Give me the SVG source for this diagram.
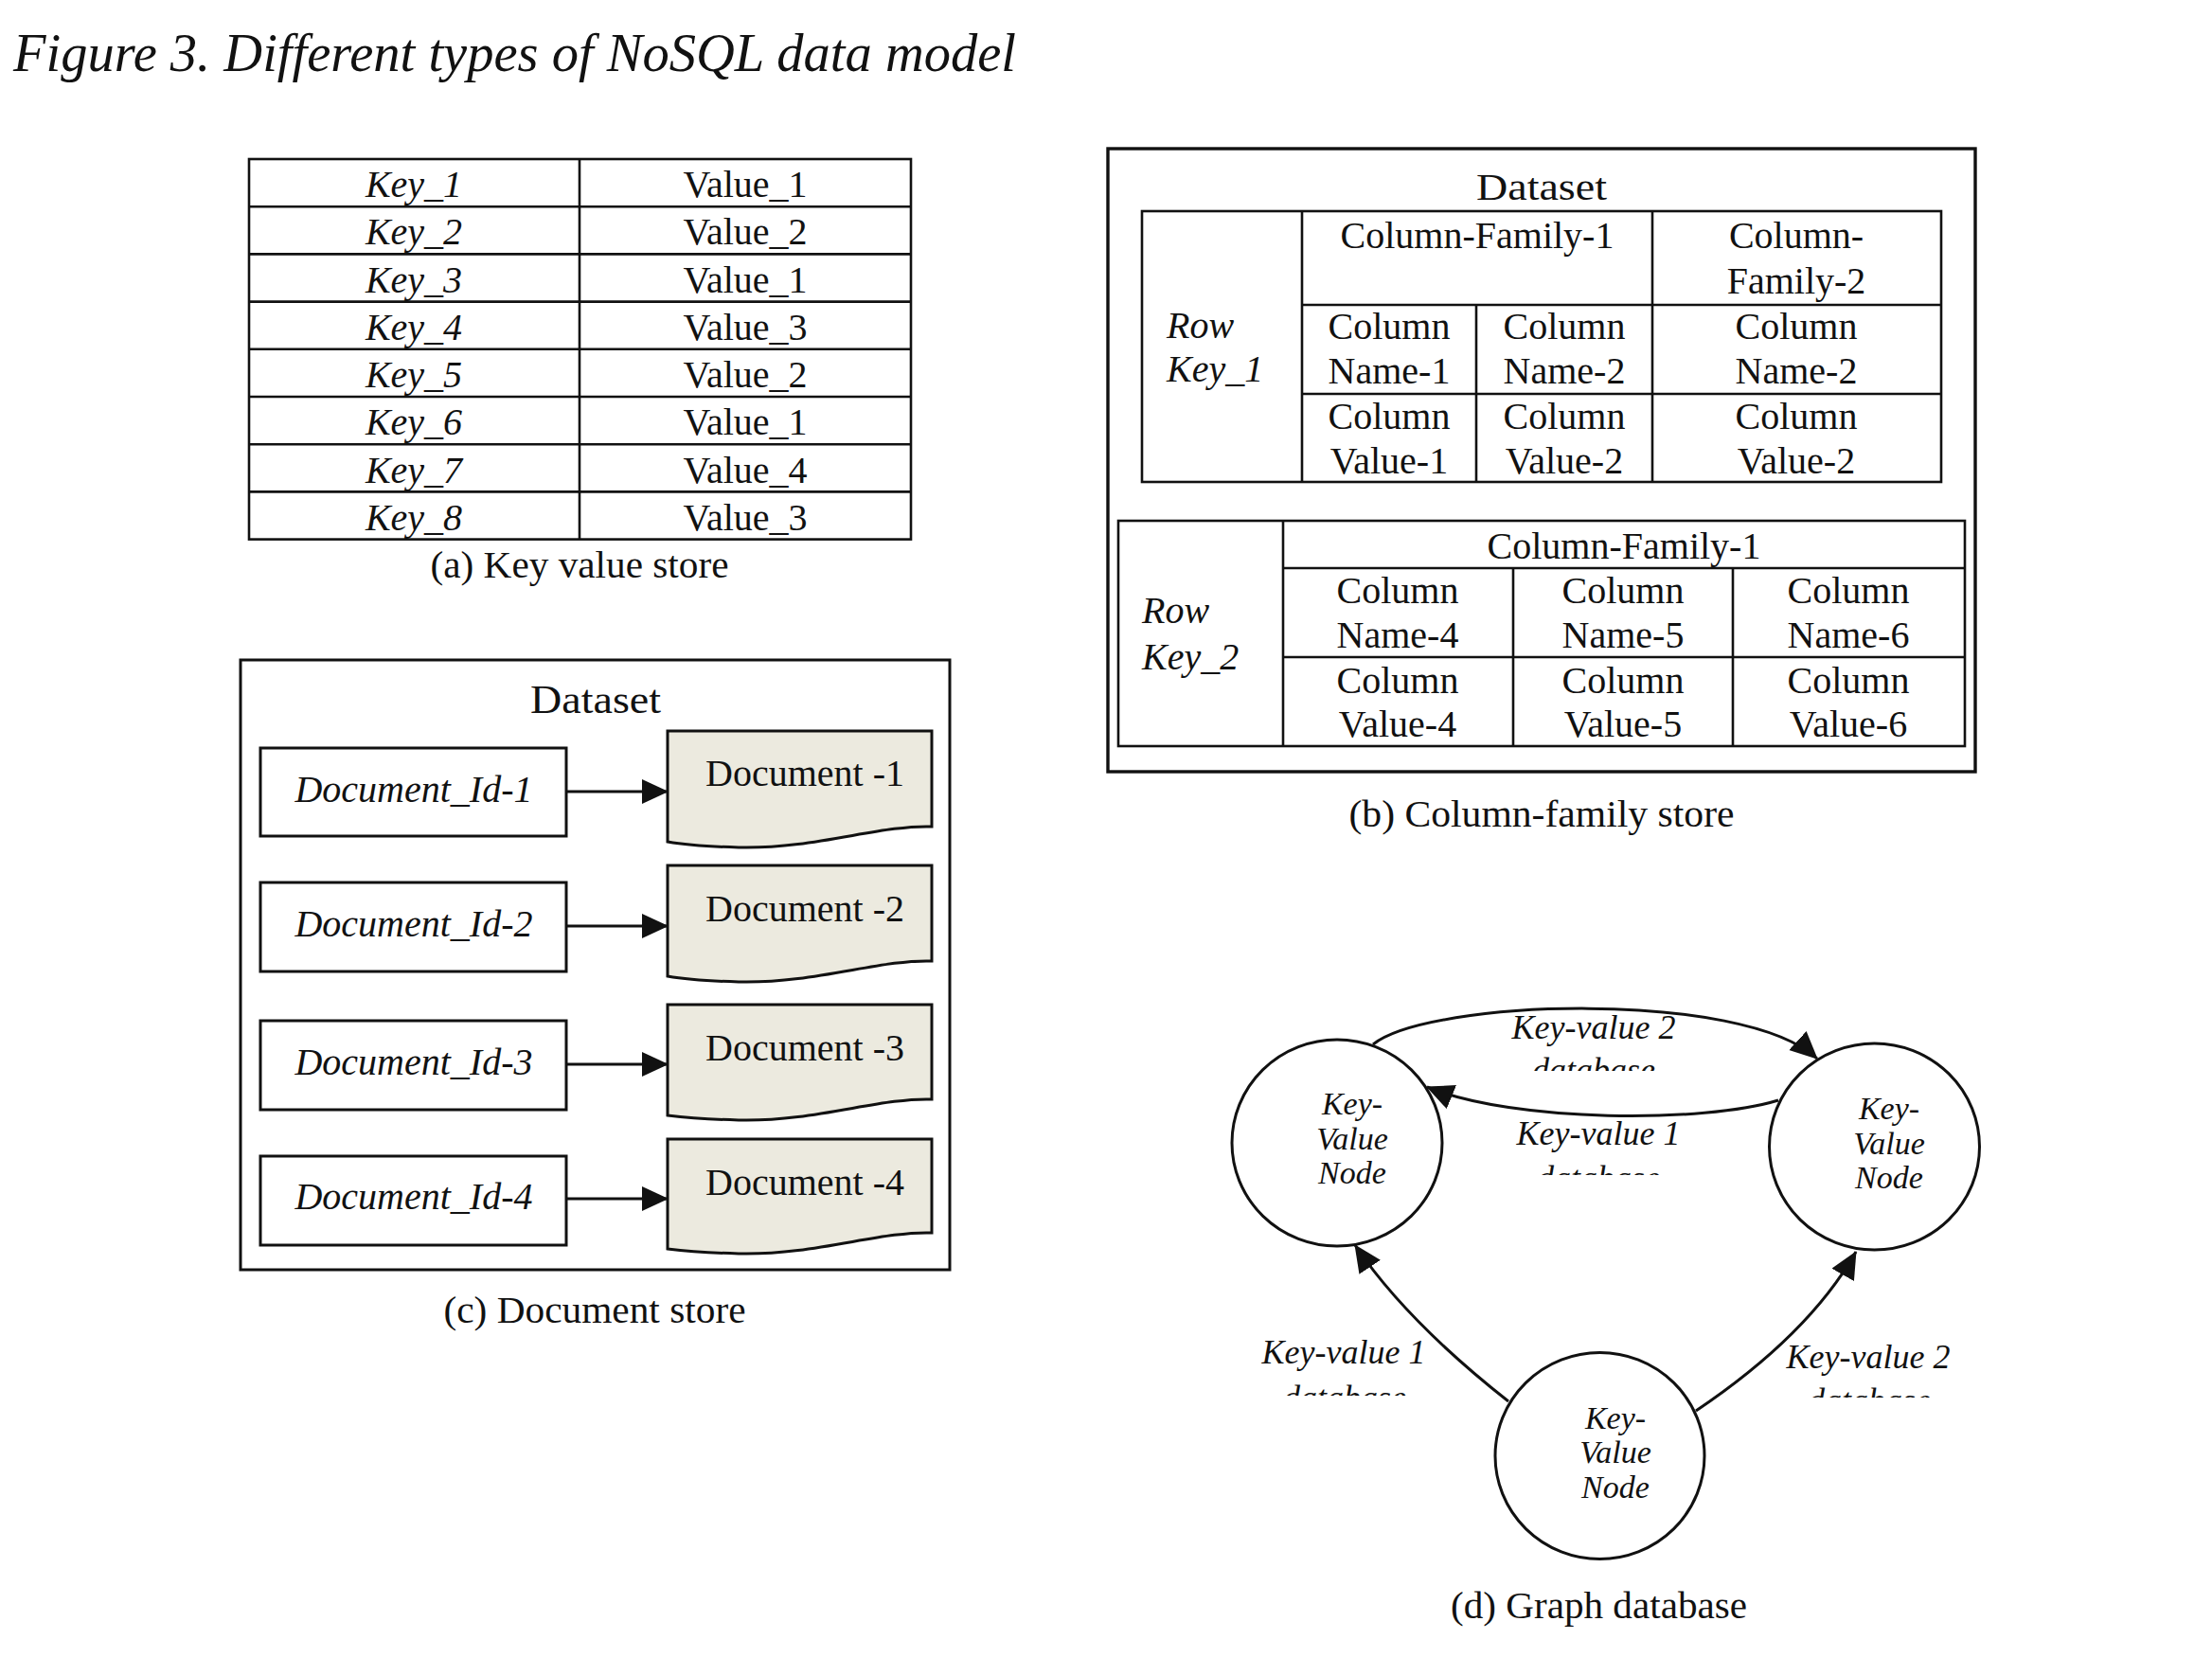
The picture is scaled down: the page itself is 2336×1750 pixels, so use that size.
<svg xmlns="http://www.w3.org/2000/svg" width="2336" height="1750" viewBox="0 0 2336 1750">
<style>
.t{font-family:"Liberation Serif","Times New Roman",serif;fill:#111}
.i{font-style:italic}
.c{text-anchor:middle}
.s40{font-size:40px}
.s36{font-size:36px}
.s34{font-size:34px}
.ln{stroke:#111;stroke-width:2.6;fill:none}
.box{stroke:#111;stroke-width:3;fill:none}
.idb{stroke:#111;stroke-width:3;fill:#fff}
.doc{stroke:#111;stroke-width:3;fill:#ECEADF}
.node{stroke:#111;stroke-width:3;fill:#fff}
.edge{stroke:#111;stroke-width:3;fill:none}
</style>
<defs>
<marker id="ah" markerUnits="userSpaceOnUse" markerWidth="30" markerHeight="28" refX="27" refY="13" orient="auto">
<path d="M0,0 L28,13 L0,26 Z" fill="#111"/>
</marker>
<marker id="ah2" markerUnits="userSpaceOnUse" markerWidth="32" markerHeight="30" refX="28" refY="13.5" orient="auto">
<path d="M0,0 L29,13.5 L0,27 Z" fill="#111"/>
</marker>
<clipPath id="cl1" clipPathUnits="userSpaceOnUse"><rect x="1580" y="1100" width="210" height="31"/></clipPath>
<clipPath id="cl2" clipPathUnits="userSpaceOnUse"><rect x="1580" y="1215" width="210" height="26"/></clipPath>
<clipPath id="cl3" clipPathUnits="userSpaceOnUse"><rect x="1320" y="1450" width="210" height="24"/></clipPath>
<clipPath id="cl4" clipPathUnits="userSpaceOnUse"><rect x="1870" y="1450" width="210" height="26"/></clipPath>
</defs>
<rect width="2336" height="1750" fill="#fff"/>

<text class="t i" x="14" y="75" font-size="57" textLength="1059" lengthAdjust="spacingAndGlyphs">Figure 3. Different types of NoSQL data model</text>

<!-- (a) Key value store -->
<g id="kv-table">
<rect class="ln" x="263" y="168" width="699" height="401.6"/>
<line class="ln" x1="612" y1="168" x2="612" y2="569.6"/>
<line class="ln" x1="263" y1="218.2" x2="962" y2="218.2"/>
<line class="ln" x1="263" y1="268.4" x2="962" y2="268.4"/>
<line class="ln" x1="263" y1="318.6" x2="962" y2="318.6"/>
<line class="ln" x1="263" y1="368.8" x2="962" y2="368.8"/>
<line class="ln" x1="263" y1="419" x2="962" y2="419"/>
<line class="ln" x1="263" y1="469.2" x2="962" y2="469.2"/>
<line class="ln" x1="263" y1="519.4" x2="962" y2="519.4"/>
<g class="t s40 c">
<text class="i" x="437" y="208">Key_1</text><text x="787" y="208">Value_1</text>
<text class="i" x="437" y="258">Key_2</text><text x="787" y="258">Value_2</text>
<text class="i" x="437" y="308.5">Key_3</text><text x="787" y="308.5">Value_1</text>
<text class="i" x="437" y="359">Key_4</text><text x="787" y="359">Value_3</text>
<text class="i" x="437" y="409">Key_5</text><text x="787" y="409">Value_2</text>
<text class="i" x="437" y="459">Key_6</text><text x="787" y="459">Value_1</text>
<text class="i" x="437" y="509.5">Key_7</text><text x="787" y="509.5">Value_4</text>
<text class="i" x="437" y="559.5">Key_8</text><text x="787" y="559.5">Value_3</text>
</g>
</g>
<text class="t s40 c" x="612" y="610" textLength="315" lengthAdjust="spacingAndGlyphs">(a) Key value store</text>

<!-- (b) Column-family store -->
<g id="cf-store">
<rect x="1170" y="157" width="916" height="658" fill="none" stroke="#111" stroke-width="3.4"/>
<text class="t s40 c" x="1628" y="211" font-size="43" textLength="138" lengthAdjust="spacingAndGlyphs">Dataset</text>
</g>
<g id="cf-row1">
<rect class="ln" x="1206" y="223" width="844" height="286"/>
<line class="ln" x1="1375" y1="223" x2="1375" y2="509"/>
<line class="ln" x1="1745" y1="223" x2="1745" y2="509"/>
<line class="ln" x1="1375" y1="322" x2="2050" y2="322"/>
<line class="ln" x1="1375" y1="416" x2="2050" y2="416"/>
<line class="ln" x1="1559" y1="322" x2="1559" y2="509"/>
<g class="t s40">
<text class="i" x="1232" y="357">Row</text>
<text class="i" x="1232" y="403">Key_1</text>
<text class="c" x="1560" y="262">Column-Family-1</text>
<text class="c" x="1897" y="262">Column-</text>
<text class="c" x="1897" y="310">Family-2</text>
<text class="c" x="1467" y="358">Column</text><text class="c" x="1467" y="405">Name-1</text>
<text class="c" x="1652" y="358">Column</text><text class="c" x="1652" y="405">Name-2</text>
<text class="c" x="1897" y="358">Column</text><text class="c" x="1897" y="405">Name-2</text>
<text class="c" x="1467" y="453">Column</text><text class="c" x="1467" y="500">Value-1</text>
<text class="c" x="1652" y="453">Column</text><text class="c" x="1652" y="500">Value-2</text>
<text class="c" x="1897" y="453">Column</text><text class="c" x="1897" y="500">Value-2</text>
</g>
</g>
<g id="cf-row2">
<rect class="ln" x="1181" y="550" width="894" height="238"/>
<line class="ln" x1="1355" y1="550" x2="1355" y2="788"/>
<line class="ln" x1="1355" y1="600" x2="2075" y2="600"/>
<line class="ln" x1="1355" y1="694" x2="2075" y2="694"/>
<line class="ln" x1="1598" y1="600" x2="1598" y2="788"/>
<line class="ln" x1="1830" y1="600" x2="1830" y2="788"/>
<g class="t s40">
<text class="i" x="1206" y="658">Row</text>
<text class="i" x="1206" y="707">Key_2</text>
<text class="c" x="1715" y="590">Column-Family-1</text>
<text class="c" x="1476" y="637">Column</text><text class="c" x="1476" y="684">Name-4</text>
<text class="c" x="1714" y="637">Column</text><text class="c" x="1714" y="684">Name-5</text>
<text class="c" x="1952" y="637">Column</text><text class="c" x="1952" y="684">Name-6</text>
<text class="c" x="1476" y="732">Column</text><text class="c" x="1476" y="778">Value-4</text>
<text class="c" x="1714" y="732">Column</text><text class="c" x="1714" y="778">Value-5</text>
<text class="c" x="1952" y="732">Column</text><text class="c" x="1952" y="778">Value-6</text>
</g>
</g>
<text class="t s40 c" x="1628" y="873" textLength="407" lengthAdjust="spacingAndGlyphs">(b) Column-family store</text>

<!-- (c) Document store -->
<g id="doc-store">
<rect class="box" x="254" y="697" width="749" height="644"/>
<text class="t c" x="629" y="753" font-size="43" textLength="138" lengthAdjust="spacingAndGlyphs">Dataset</text>
</g>
<g id="docid-1"><rect class="idb" x="275" y="790" width="323" height="93"/><text class="t i s40 c" x="437" y="846.5">Document_Id-1</text></g>
<g id="docid-2"><rect class="idb" x="275" y="932" width="323" height="94"/><text class="t i s40 c" x="437" y="988.5">Document_Id-2</text></g>
<g id="docid-3"><rect class="idb" x="275" y="1078" width="323" height="94"/><text class="t i s40 c" x="437" y="1134.5">Document_Id-3</text></g>
<g id="docid-4"><rect class="idb" x="275" y="1221" width="323" height="94"/><text class="t i s40 c" x="437" y="1277">Document_Id-4</text></g>
<g id="doc-1"><path class="doc" d="M705,772 H984 V873 C930,871 860,897 780,895 C745,894 722,892 705,889 Z"/><text class="t s40 c" x="850" y="830">Document -1</text></g>
<g id="doc-2"><path class="doc" d="M705,914 H984 V1015 C930,1013 860,1039 780,1037 C745,1036 722,1034 705,1031 Z"/><text class="t s40 c" x="850" y="972.5">Document -2</text></g>
<g id="doc-3"><path class="doc" d="M705,1061 H984 V1161 C930,1159 860,1185 780,1183 C745,1182 722,1180 705,1178 Z"/><text class="t s40 c" x="850" y="1119.5">Document -3</text></g>
<g id="doc-4"><path class="doc" d="M705,1203 H984 V1302 C930,1300 860,1326 780,1324 C745,1323 722,1321 705,1319 Z"/><text class="t s40 c" x="850" y="1261.5">Document -4</text></g>
<text class="t s40 c" x="628" y="1397" textLength="319" lengthAdjust="spacingAndGlyphs">(c) Document store</text>

<!-- (d) Graph database -->
<g id="kv-node-left"><ellipse class="node" cx="1412" cy="1207" rx="111" ry="109"/>
<g class="t i s34 c"><text x="1428" y="1177">Key-</text><text x="1428" y="1213.5">Value</text><text x="1428" y="1250">Node</text></g></g>
<g id="kv-node-right"><ellipse class="node" cx="1979.5" cy="1211" rx="111" ry="109"/>
<g class="t i s34 c"><text x="1995" y="1182">Key-</text><text x="1995" y="1218.5">Value</text><text x="1995" y="1255">Node</text></g></g>
<g id="kv-node-bottom"><ellipse class="node" cx="1689.5" cy="1537.5" rx="110.5" ry="109"/>
<g class="t i s34 c"><text x="1706" y="1508.5">Key-</text><text x="1706" y="1545">Value</text><text x="1706" y="1581.5">Node</text></g></g>

<g id="connectors">
<line class="edge" x1="598" y1="836" x2="705" y2="836" marker-end="url(#ah)"/>
<line class="edge" x1="598" y1="978" x2="705" y2="978" marker-end="url(#ah)"/>
<line class="edge" x1="598" y1="1124" x2="705" y2="1124" marker-end="url(#ah)"/>
<line class="edge" x1="598" y1="1266" x2="705" y2="1266" marker-end="url(#ah)"/>
<path class="edge" d="M1450,1103 C1510,1055 1840,1045 1919,1118" marker-end="url(#ah2)"/>
<path class="edge" d="M1878,1162 C1800,1186 1600,1186 1507,1148" marker-end="url(#ah2)"/>
<path class="edge" d="M1593,1480 Q1485,1395 1431,1315" marker-end="url(#ah2)"/>
<path class="edge" d="M1791,1490 Q1910,1410 1960,1322" marker-end="url(#ah2)"/>
</g>
<g id="edge-labels" class="t i s36 c">
<text x="1683" y="1097">Key-value 2</text>
<text x="1683" y="1142" clip-path="url(#cl1)">database</text>
<text x="1688" y="1208.5">Key-value 1</text>
<text x="1688" y="1256" clip-path="url(#cl2)">database</text>
<text x="1419" y="1440">Key-value 1</text>
<text x="1420" y="1488" clip-path="url(#cl3)">database</text>
<text x="1973" y="1445">Key-value 2</text>
<text x="1974" y="1491" clip-path="url(#cl4)">database</text>
</g>
<text class="t s40 c" x="1688.5" y="1709" textLength="313" lengthAdjust="spacingAndGlyphs">(d) Graph database</text>
</svg>
